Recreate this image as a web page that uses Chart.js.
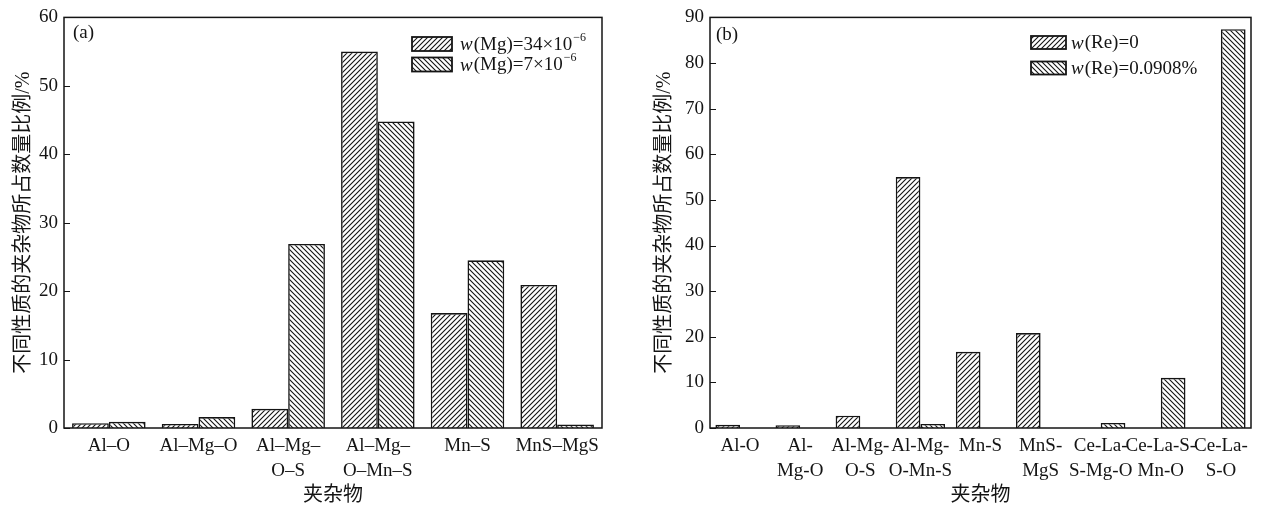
<!DOCTYPE html>
<html>
<head>
<meta charset="utf-8">
<script src="https://cdn.jsdelivr.net/npm/chart.js@4.4.0/dist/chart.umd.min.js"></script>
<style>
  html, body { margin: 0; padding: 0; background: #fff; }
  #wrap { position: relative; width: 1277px; height: 508px; }
  canvas { position: absolute; top: 0; }
</style>
</head>
<body>
<div id="wrap">
  <canvas id="chartA" width="640" height="508" style="left:0"></canvas>
  <canvas id="chartB" width="637" height="508" style="left:640px"></canvas>
</div>
<script>
// ---- data: panel (a) ----
const catsA = ['Al–O', 'Al–Mg–O', ['Al–Mg–', 'O–S'], ['Al–Mg–', 'O–Mn–S'], 'Mn–S', 'MnS–MgS'];
const namesA = ['w(Mg)=34×10^−6', 'w(Mg)=7×10^−6'];
const mg34 = [0.7, 0.6, 2.8, 55.0, 16.8, 20.9];
const mg7 = [0.9, 1.6, 26.9, 44.8, 24.5, 0.5];
const yTicksA = { max: 60, step: 10 };

// ---- data: panel (b) ----
const catsB = ['Al-O', ['Al-', 'Mg-O'], ['Al-Mg-', 'O-S'], ['Al-Mg-', 'O-Mn-S'], 'Mn-S',
  ['MnS-', 'MgS'], ['Ce-La-', 'S-Mg-O'], ['Ce-La-S-', 'Mn-O'], ['Ce-La-', 'S-O']];
const namesB = ['w(Re)=0', 'w(Re)=0.0908%'];
const re0 = [0.7, 0.6, 2.7, 55.0, 16.7, 20.8, null, null, null];
const re0908 = [null, null, null, 0.9, null, null, 1.1, 11.0, 87.4];
const yTicksB = { max: 90, step: 10 };

const yTitle = '不同性质的夹杂物所占数量比例/%';
const xTitle = '夹杂物';

const FONT = '"Liberation Serif", "Noto Sans CJK SC", serif';
const INK = '#141414';

// diagonal hatch, dir > 0 is '/', dir < 0 is '\'
function hatch(ctx, dir) {
  const s = 5;
  const c = document.createElement('canvas');
  c.width = s; c.height = s;
  const g = c.getContext('2d');
  g.fillStyle = '#fff'; g.fillRect(0, 0, s, s);
  g.strokeStyle = INK; g.lineWidth = 1.1;
  g.beginPath();
  if (dir > 0) {
    g.moveTo(-1, s + 1); g.lineTo(s + 1, -1);
    g.moveTo(-1, 1); g.lineTo(1, -1);
    g.moveTo(s - 1, s + 1); g.lineTo(s + 1, s - 1);
  } else {
    g.moveTo(-1, -1); g.lineTo(s + 1, s + 1);
    g.moveTo(s - 1, -1); g.lineTo(s + 1, 1);
    g.moveTo(-1, s - 1); g.lineTo(1, s + 1);
  }
  g.stroke();
  return ctx.createPattern(c, 'repeat');
}

// 'w(Mg)=34×10^−6' -> italic w, plain rest, superscript after ^
function drawName(ctx, name, x, y, size) {
  const [main, sup] = name.split('^');
  ctx.font = `italic ${size}px ${FONT}`;
  ctx.fillText(main[0], x, y);
  x += ctx.measureText(main[0]).width + 1;
  ctx.font = `${size}px ${FONT}`;
  ctx.fillText(main.slice(1), x, y);
  x += ctx.measureText(main.slice(1)).width;
  if (sup) {
    ctx.font = `${Math.round(size * 0.62)}px ${FONT}`;
    ctx.fillText(sup, x + 1, y - size * 0.38);
  }
}

// frame, inward y ticks, panel letter and in-plot legend
const decor = {
  id: 'decor',
  afterDraw(chart, args, o) {
    const { ctx, chartArea: a } = chart;
    const ys = chart.scales.y;
    ctx.save();
    ctx.strokeStyle = INK;
    ctx.lineWidth = 1.5;
    ctx.strokeRect(a.left, a.top, a.right - a.left, a.bottom - a.top);
    ctx.beginPath();
    ys.ticks.forEach(t => {
      const py = Math.round(ys.getPixelForValue(t.value)) + 0.5;
      ctx.moveTo(a.left, py); ctx.lineTo(a.left + 6, py);
    });
    ctx.lineWidth = 1.2;
    ctx.stroke();

    ctx.fillStyle = INK;
    ctx.textBaseline = 'middle';
    ctx.textAlign = 'left';
    ctx.font = `19px ${FONT}`;
    ctx.fillText(o.panel, o.panelX, o.panelY);

    chart.data.datasets.forEach((ds, i) => {
      const cy = o.legY + i * o.legGap;
      const bx = o.legX, by = cy - o.boxH / 2;
      ctx.fillStyle = ds.backgroundColor;
      ctx.fillRect(bx, by, o.boxW, o.boxH);
      ctx.lineWidth = 1.8;
      ctx.strokeStyle = INK;
      ctx.strokeRect(bx, by, o.boxW, o.boxH);
      ctx.fillStyle = INK;
      drawName(ctx, ds.label, bx + o.boxW + o.textGap, cy + 1, 19);
    });
    ctx.restore();
  }
};

function makeChart(id, cats, names, s1, s2, yt, yWidth, pad, deco) {
  const ctx = document.getElementById(id).getContext('2d');
  const common = {
    borderColor: INK, borderWidth: 1.6,
    categoryPercentage: 0.82, barPercentage: 1.0
  };
  return new Chart(ctx, {
    type: 'bar',
    data: {
      labels: cats,
      datasets: [
        Object.assign({ label: names[0], data: s1, backgroundColor: hatch(ctx, 1) }, common),
        Object.assign({ label: names[1], data: s2, backgroundColor: hatch(ctx, -1) }, common)
      ]
    },
    options: {
      responsive: false,
      animation: false,
      events: [],
      layout: { padding: pad },
      plugins: { legend: { display: false }, tooltip: { enabled: false }, decor: deco },
      scales: {
        x: {
          grid: { display: false, drawTicks: false },
          border: { display: false },
          ticks: {
            color: INK, autoSkip: false, maxRotation: 0, padding: 6,
            font: { family: FONT, size: 19, lineHeight: 1.3 }
          },
          title: {
            display: true, text: xTitle, color: INK,
            font: { family: FONT, size: 20 }, padding: { top: 0, bottom: 0 }
          },
          afterFit: s => { s.height = 80; }
        },
        y: {
          min: 0, max: yt.max,
          grid: { display: false, drawTicks: false },
          border: { display: false },
          ticks: { stepSize: yt.step, color: INK, padding: 6, font: { family: FONT, size: 19 } },
          title: {
            display: true, text: yTitle, color: INK,
            font: { family: FONT, size: 20 }, padding: { top: 0, bottom: 0 }
          },
          afterFit: s => { s.width = yWidth; }
        }
      }
    },
    plugins: [decor]
  });
}

makeChart('chartA', catsA, namesA, mg34, mg7, yTicksA, 52,
  { left: 12, top: 17, right: 38, bottom: 0 },
  { panel: '(a)', panelX: 73, panelY: 33, legX: 412, legY: 44, legGap: 20.5,
    boxW: 40, boxH: 14, textGap: 8 });

makeChart('chartB', catsB, namesB, re0, re0908, yTicksB, 57,
  { left: 13, top: 17, right: 26, bottom: 0 },
  { panel: '(b)', panelX: 76, panelY: 35, legX: 391, legY: 42.5, legGap: 25.5,
    boxW: 35, boxH: 13, textGap: 5 });
</script>
</body>
</html>
